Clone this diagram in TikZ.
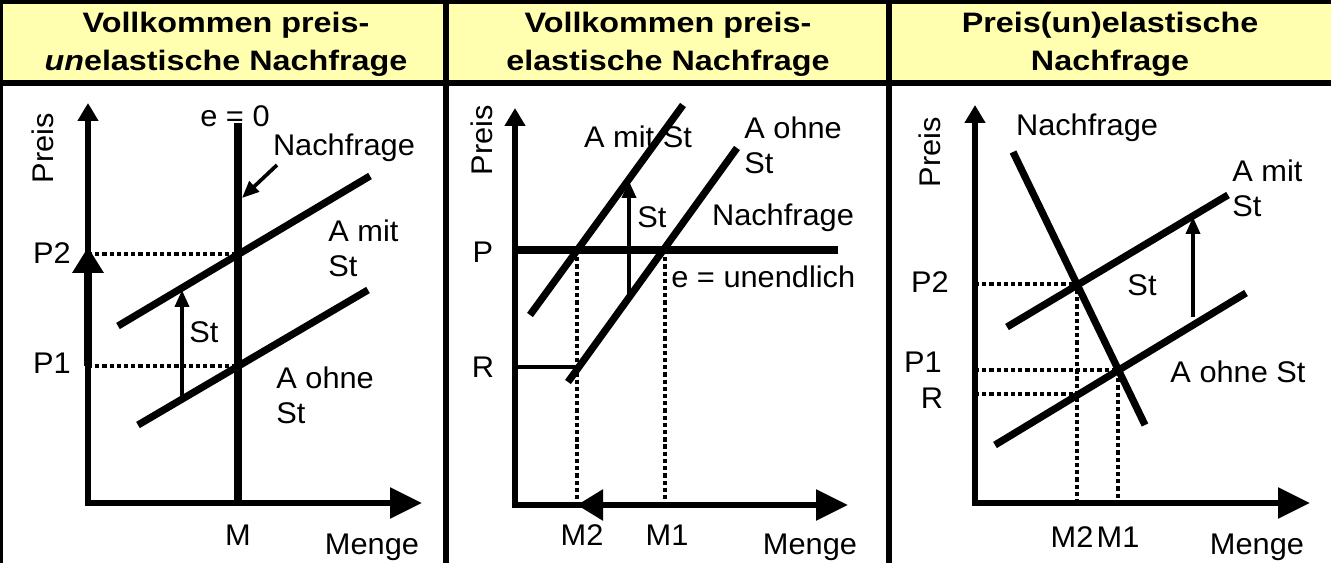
\documentclass[tikz,border=0pt]{standalone}
\usepackage{fontspec}
\setmainfont{Liberation Sans}[FakeStretch=1.03]
\newfontfamily\kopffont{Liberation Sans}[FakeStretch=1.15]
\usetikzlibrary{arrows.meta}
\definecolor{kopf}{HTML}{FFFFAF}

\tikzset{
  rahmen/.style={line width=3.6pt},
  achse/.style={line width=3.2pt},
  kurve/.style={line width=4.1pt},
  hilfs/.style={line width=2.1pt, dash pattern=on 2.4pt off 1.7pt},
  pfeil/.style={line width=2.1pt, -{stspitze}},
  lbl/.style={font=\fontsize{17}{19.8}\selectfont, inner sep=0pt},
  kopftext/.style={font=\kopffont\bfseries\fontsize{16}{21.5}\selectfont, align=center, inner sep=0pt},
  yspitze/.tip={Triangle[length=0.36cm,width=0.4cm]},
  xspitze/.tip={Triangle[length=0.64cm,width=0.6cm]},
  stspitze/.tip={Triangle[length=0.34cm,width=0.28cm]},
  pspitze/.tip={Triangle[length=0.52cm,width=0.6cm]}
}

\begin{document}
\begin{tikzpicture}[x=0.02cm, y=-0.02cm]
  \useasboundingbox (0,0) rectangle (1331,563);
  % Kopfzeile und Tabellenrahmen
  \fill [kopf] (0,0) rectangle (1331,83);
  \draw [rahmen] (0,1) -- (1331,1);
  \draw [rahmen] (0,83) -- (1331,83);
  \draw [rahmen] (0,0) -- (0,563);
  \draw [rahmen] (446,0) -- (446,563);
  \draw [rahmen] (889,0) -- (889,563);
  \node [kopftext] (kopf1) at (226,44) {Vollkommen preis-\\\textit{un}elastische Nachfrage};
  \node [kopftext] (kopf2) at (668,44) {Vollkommen preis-\\elastische Nachfrage};
  \node [kopftext] (kopf3) at (1110,44) {Preis(un)elastische\\Nachfrage};

  % 1: vollkommen unelastisch
  \coordinate (o1) at (88,503);
  \draw [achse, {yspitze}-{xspitze}] (88,103) -- (o1) -- (422,503);
  \draw [line width=4.6pt, -{pspitze}] (88,366) -- (88,247); % Preisanstieg P1 -> P2
  \draw [kurve] (238,123) -- (238,503); % Nachfrage
  \draw [kurve] (118,326) -- (370,176); % A mit St
  \draw [kurve] (138,425) -- (368,290); % A ohne St
  \coordinate (g2) at (238,254);
  \coordinate (g1) at (238,366);
  \draw [hilfs] (g2 -| o1) -- (g2);
  \draw [hilfs] (g1 -| o1) -- (g1);
  \coordinate (st1a) at (182,399);
  \coordinate (st1b) at (182,290);
  \draw [pfeil] (st1a) -- (st1b);
  \coordinate (nfa) at (277,165);
  \coordinate (nfb) at (242,198);
  \draw [pfeil] (nfa) -- (nfb);
  \node [lbl, rotate=90] (preis1) at (43,148) {Preis};
  \node [lbl] (e0) at (235,116) {e = 0};
  \node [lbl] (nf1) at (344,148) {Nachfrage};
  \node [lbl, align=left, anchor=west] (mit1) at (328,248) {A mit\\St};
  \node [lbl, align=left, anchor=west] (ohne1) at (276,395) {A ohne\\St};
  \node [lbl] (st1) at (204,332) {St};
  \node [lbl] (p21) at (52,253) {P2};
  \node [lbl] (p11) at (52,363) {P1};
  \node [lbl] (m1) at (238,535) {M};
  \node [lbl] (menge1) at (372,547) {Menge};

  % 2: vollkommen elastisch
  \coordinate (o2) at (515,505);
  \draw [achse, {yspitze}-{xspitze}] (515,108) -- (o2) -- (848,505);
  \draw [achse, -{pspitze}] (665,505) -- (577,505); % Mengenrueckgang M1 -> M2
  \draw [kurve] (515,250) -- (838,250); % Nachfrage
  \draw [kurve] (530,315) -- (683,105); % A mit St
  \draw [kurve] (568,382) -- (737,148); % A ohne St
  \coordinate (g22) at (577,250);
  \coordinate (g21) at (665,250);
  \draw [hilfs] (g22) -- (g22 |- o2);
  \draw [hilfs] (g21) -- (g21 |- o2);
  \coordinate (r2) at (579,367);
  \draw [line width=1.9pt] (r2 -| o2) -- (r2);
  \coordinate (st2a) at (629,297);
  \coordinate (st2b) at (629,181);
  \draw [pfeil] (st2a) -- (st2b);
  \node [lbl, rotate=90] (preis2) at (482,140) {Preis};
  \node [lbl] (mit2) at (638,137) {A mit St};
  \node [lbl, align=left, anchor=west] (ohne2) at (744,145) {A ohne\\St};
  \node [lbl] (st2) at (652,217) {St};
  \node [lbl] (nf2) at (783,218) {Nachfrage};
  \node [lbl, anchor=west] (einf) at (671,277) {e = unendlich};
  \node [lbl] (p2) at (483,252) {P};
  \node [lbl] (r2l) at (483,367) {R};
  \node [lbl] (m22) at (582,535) {M2};
  \node [lbl] (m21) at (667,535) {M1};
  \node [lbl] (menge2) at (810,547) {Menge};

  % 3: normale Nachfrage
  \coordinate (o3) at (975,503);
  \draw [achse, {yspitze}-{xspitze}] (975,105) -- (o3) -- (1310,503);
  \draw [kurve] (1013,152) -- (1145,425); % Nachfrage
  \draw [kurve] (1007,327) -- (1228,195); % A mit St
  \draw [kurve] (995,445) -- (1246,293); % A ohne St
  \coordinate (g32) at (1077,284);
  \coordinate (g31) at (1118,370);
  \coordinate (r3) at (1077,394);
  \draw [hilfs] (g32 -| o3) -- (g32) -- (g32 |- o3);
  \draw [hilfs] (g31 -| o3) -- (g31) -- (g31 |- o3);
  \draw [hilfs] (r3 -| o3) -- (r3);
  \coordinate (st3a) at (1193,317);
  \coordinate (st3b) at (1193,217);
  \draw [pfeil] (st3a) -- (st3b);
  \node [lbl, rotate=90] (preis3) at (930,152) {Preis};
  \node [lbl] (nf3) at (1087,128) {Nachfrage};
  \node [lbl, align=left, anchor=west] (mit3) at (1232,188) {A mit\\St};
  \node [lbl] (st3) at (1142,285) {St};
  \node [lbl] (ohne3) at (1238,372) {A ohne St};
  \node [lbl] (p23) at (930,282) {P2};
  \node [lbl] (p13) at (923,362) {P1};
  \node [lbl] (r3l) at (932,398) {R};
  \node [lbl] (m32) at (1072,537) {M2};
  \node [lbl] (m31) at (1118,537) {M1};
  \node [lbl] (menge3) at (1257,547) {Menge};
\end{tikzpicture}
\end{document}
